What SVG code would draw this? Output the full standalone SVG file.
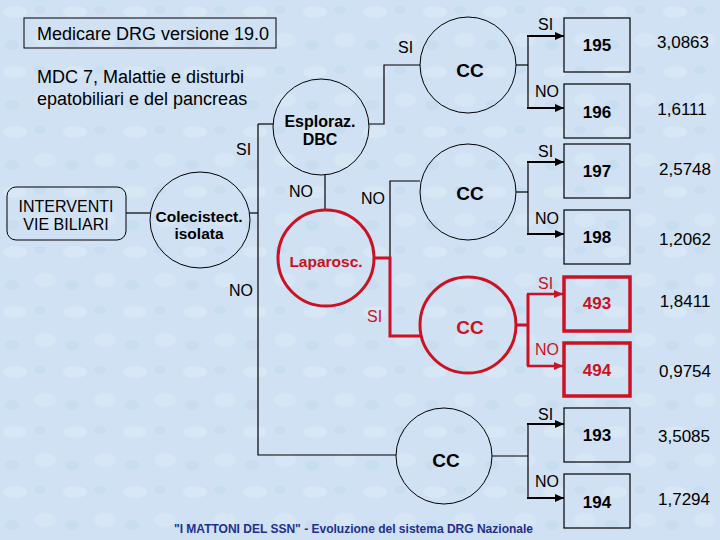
<svg xmlns="http://www.w3.org/2000/svg" width="720" height="540" viewBox="0 0 720 540">
<defs>
<pattern id="tex" width="60" height="60" patternUnits="userSpaceOnUse">
<rect width="60" height="60" fill="#cfe1f3"/>
<ellipse cx="15" cy="12" rx="12" ry="6" fill="#e2edf8" opacity="0.45"/>
<ellipse cx="45" cy="40" rx="11" ry="7" fill="#e2edf8" opacity="0.4"/>
<ellipse cx="40" cy="10" rx="6" ry="4" fill="#c1d6ee" opacity="0.4"/>
<ellipse cx="12" cy="45" rx="7" ry="5" fill="#c1d6ee" opacity="0.4"/>
</pattern>
<marker id="ab" markerWidth="9" markerHeight="8" refX="9" refY="4" orient="auto" markerUnits="userSpaceOnUse"><path d="M0,0 L9,4 L0,8 z" fill="#000"/></marker>
<marker id="ar" markerWidth="9" markerHeight="8" refX="9" refY="4" orient="auto" markerUnits="userSpaceOnUse"><path d="M0,0 L9,4 L0,8 z" fill="#cc1122"/></marker>
</defs>
<style>
text{font-family:"Liberation Sans",Arial,sans-serif;fill:#000}
.t16{font-size:18px}
.lab{font-size:16px}
.nd{font-size:15.5px}
.b{font-weight:bold}
.cc{font-size:19px;font-weight:bold;text-anchor:middle}
.num{font-size:17px;font-weight:bold;text-anchor:middle}
.val{font-size:17px;text-anchor:middle}
.mid{text-anchor:middle}
.red{fill:#cc1122}
.circ{fill:none;stroke:#000;stroke-width:1}
.circr{fill:none;stroke:#cc1122;stroke-width:3}
.box{fill:none;stroke:#000;stroke-width:1.2}
.boxr{fill:none;stroke:#cc1122;stroke-width:3.5}
.ln{fill:none;stroke:#000;stroke-width:1.2}
.lnr{fill:none;stroke:#cc1122;stroke-width:3}
.arr{fill:none;stroke:#000;stroke-width:2;marker-end:url(#ab)}
.arrr{fill:none;stroke:#cc1122;stroke-width:2.5;marker-end:url(#ar)}
</style>
<rect width="720" height="540" fill="url(#tex)"/>

<g id="title">
<rect x="24" y="18" width="252" height="30" fill="none" stroke="#000" stroke-width="1"/>
<text class="t16" x="37" y="40">Medicare DRG versione 19.0</text>
</g>
<g id="subtitle">
<text class="t16" x="37" y="83">MDC 7, Malattie e disturbi</text>
<text class="t16" x="37" y="105">epatobiliari e del pancreas</text>
</g>

<g id="connectors">
<path class="ln" d="M126,213 H150"/>
<path class="ln" d="M250,213 H258"/>
<path class="ln" d="M258,124 V455 H396"/>
<path class="ln" d="M258,124 H273"/>
<path class="ln" d="M369,124 H384 V65 H420"/>
<path class="ln" d="M325,175 V210"/>
<path class="ln" d="M420,181 H390 V258"/>
<path class="lnr" d="M374,258 H390 V336 H421"/>
<path class="ln" d="M516,65 H528"/>
<path class="ln" d="M528,36 V108" stroke-width="2"/>
<path class="arr" d="M527,36 H564"/>
<path class="arr" d="M527,108 H564"/>
<path class="ln" d="M516,192 H528"/>
<path class="ln" d="M528,162 V234" stroke-width="2"/>
<path class="arr" d="M527,162 H564"/>
<path class="arr" d="M527,234 H564"/>
<path class="lnr" d="M516,325 H528 M528,294 V366"/>
<path class="arrr" d="M527,294 H563"/>
<path class="arrr" d="M527,366 H563"/>
<path class="ln" d="M492,456 H528"/>
<path class="ln" d="M528,424 V498" stroke-width="2"/>
<path class="arr" d="M527,424 H564"/>
<path class="arr" d="M527,498 H564"/>
</g>

<g id="labels">
<text class="lab" x="236" y="155">SI</text>
<text class="lab" x="289" y="197">NO</text>
<text class="lab" x="229" y="296">NO</text>
<text class="lab" x="398" y="53">SI</text>
<text class="lab" x="361" y="204">NO</text>
<text class="lab red" x="367" y="322">SI</text>
<text class="lab" x="538" y="30">SI</text>
<text class="lab" x="535" y="97">NO</text>
<text class="lab" x="538" y="157">SI</text>
<text class="lab" x="535" y="224">NO</text>
<text class="lab red" x="538" y="289">SI</text>
<text class="lab red" x="535" y="355">NO</text>
<text class="lab" x="538" y="420">SI</text>
<text class="lab" x="535" y="487">NO</text>
</g>

<g id="interventi">
<rect x="7" y="187" width="119" height="53" rx="9" fill="none" stroke="#000" stroke-width="1"/>
<text class="lab mid" x="66" y="212">INTERVENTI</text>
<text class="lab mid" x="66" y="230">VIE BILIARI</text>
</g>
<g id="colecistect">
<ellipse class="circ" cx="200" cy="220" rx="50" ry="48"/>
<text class="nd b mid" x="199" y="222">Colecistect.</text>
<text class="nd b mid" x="199" y="239">isolata</text>
</g>
<g id="esploraz">
<circle class="circ" cx="321" cy="127" r="48"/>
<text class="lab b mid" x="320" y="127">Esploraz.</text>
<text class="lab b mid" x="320" y="145">DBC</text>
</g>
<g id="laparosc">
<circle class="circr" cx="326" cy="258" r="48"/>
<text class="nd b mid red" x="326" y="267">Laparosc.</text>
</g>
<g id="cc1">
<circle class="circ" cx="468" cy="65" r="48"/>
<text class="cc" x="470" y="77">CC</text>
</g>
<g id="cc2">
<circle class="circ" cx="468" cy="192" r="48"/>
<text class="cc" x="470" y="200">CC</text>
</g>
<g id="cc3">
<circle class="circr" cx="468" cy="325" r="48"/>
<text class="cc red" x="470" y="334">CC</text>
</g>
<g id="cc4">
<circle class="circ" cx="444" cy="456" r="48"/>
<text class="cc" x="446" y="467">CC</text>
</g>

<g id="drg195"><rect class="box" x="564" y="18" width="66" height="54"/><text class="num" x="597" y="51">195</text></g>
<g id="drg196"><rect class="box" x="564" y="84" width="66" height="54"/><text class="num" x="597" y="118">196</text></g>
<g id="drg197"><rect class="box" x="564" y="144" width="66" height="54"/><text class="num" x="597" y="177">197</text></g>
<g id="drg198"><rect class="box" x="564" y="210" width="66" height="54"/><text class="num" x="597" y="243">198</text></g>
<g id="drg493"><rect class="boxr" x="564" y="277" width="66" height="54"/><text class="num red" x="597" y="309">493</text></g>
<g id="drg494"><rect class="boxr" x="564" y="343" width="66" height="53"/><text class="num red" x="597" y="376">494</text></g>
<g id="drg193"><rect class="box" x="564" y="408" width="66" height="54"/><text class="num" x="597" y="441">193</text></g>
<g id="drg194"><rect class="box" x="564" y="474" width="66" height="54"/><text class="num" x="597" y="508">194</text></g>

<g id="weights">
<text class="val" x="683" y="48">3,0863</text>
<text class="val" x="682" y="115">1,6111</text>
<text class="val" x="685" y="175">2,5748</text>
<text class="val" x="685" y="245">1,2062</text>
<text class="val" x="685" y="307">1,8411</text>
<text class="val" x="685" y="377">0,9754</text>
<text class="val" x="684" y="442">3,5085</text>
<text class="val" x="684" y="505">1,7294</text>
</g>

<g id="footer">
<text x="174" y="533" font-size="12" font-weight="bold" style="fill:#1f2f8f" textLength="359" lengthAdjust="spacingAndGlyphs">"I MATTONI DEL SSN" - Evoluzione del sistema DRG Nazionale</text>
</g>
</svg>
